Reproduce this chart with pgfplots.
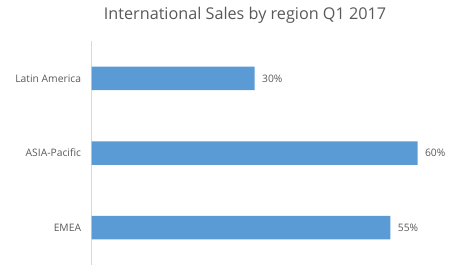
\documentclass[border=0pt]{standalone}
\usepackage{pgfplots}
\pgfplotsset{compat=1.18}
\usepackage{fontspec}
\setmainfont{Open Sans}
\definecolor{barblue}{HTML}{5B9BD5}
\definecolor{txtgray}{HTML}{595959}
\definecolor{axgray}{HTML}{D9D9D9}
\begin{document}
\begin{tikzpicture}[x=1pt,y=1pt]
\path[use as bounding box] (0,0) rectangle (452,268);
\node[text=txtgray, font=\fontsize{16.2}{19}\selectfont] at (245,253) {International Sales by region Q1 2017};
\begin{axis}[
  at={(91.7pt,3pt)}, anchor=south west,
  scale only axis, width=353pt, height=224pt,
  xbar, bar width=23.5pt,
  xmin=0, xmax=65,
  ymin=-0.5, ymax=2.5, y dir=reverse,
  ytick={0,1,2},
  yticklabels={Latin America,ASIA-Pacific,EMEA},
  axis x line=none,
  axis y line=left,
  y axis line style={-, draw=axgray, line width=0.8pt},
  ytick style={draw=none},
  yticklabel style={text=txtgray, font=\fontsize{10.3}{12}\selectfont, xshift=-5pt},
  point meta=explicit symbolic,
  nodes near coords,
  nodes near coords style={text=txtgray, font=\fontsize{10.3}{12}\selectfont, anchor=west, xshift=4pt},
  clip=false,
]
\addplot[fill=barblue, draw=none] coordinates {(30,0) [30\%] (60,1) [60\%] (55,2) [55\%]};
\end{axis}
\end{tikzpicture}
\end{document}
